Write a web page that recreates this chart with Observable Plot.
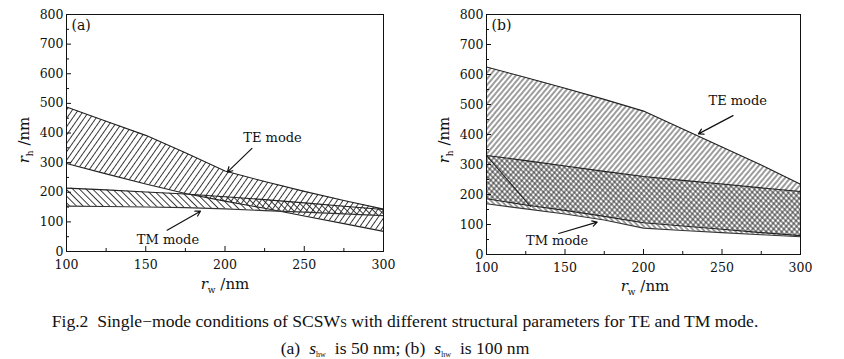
<!DOCTYPE html>
<html>
<head>
<meta charset="utf-8">
<script src="https://cdn.jsdelivr.net/npm/d3@7"></script>
<script src="https://cdn.jsdelivr.net/npm/@observablehq/plot@0.6"></script>
<style>
  html, body { margin: 0; padding: 0; background: white; }
  #wrap { position: relative; width: 844px; height: 359px; overflow: hidden; background: white; }
  .panel { position: absolute; top: 0; }
  .ttl { position: absolute; font-family: "DejaVu Serif", serif; font-size: 15px; white-space: nowrap; transform: translate(-50%, -50%); color: #111; }
  .ttl sub { font-size: 9px; vertical-align: -4px; }
  .rot { transform: translate(-50%, -50%) rotate(-90deg); }
  .cap { position: absolute; font-family: "Liberation Serif", serif; font-size: 17.6px; white-space: nowrap; color: #111; transform: translate(-50%, -50%); }
  .cap sub { font-size: 8px; vertical-align: -3px; }
  .sc { font-size: 12px; }
  .gap { display: inline-block; width: 9px; }
</style>
</head>
<body>
<div id="wrap">
  <div id="pa" class="panel" style="left:0"></div>
  <div id="pb" class="panel" style="left:420px"></div>
  <div class="ttl rot" style="left:25px; top:140px"><i>r</i><sub>h</sub> /nm</div>
  <div class="ttl rot" style="left:445px; top:140px"><i>r</i><sub>h</sub> /nm</div>
  <div class="ttl" style="left:225px; top:285px"><i>r</i><sub>w</sub> /nm</div>
  <div class="ttl" style="left:645px; top:287px"><i>r</i><sub>w</sub> /nm</div>
  <div class="cap" style="left:405px; top:321px">Fig.2&nbsp; Single−mode conditions of SCSW<span class="sc">S</span> with different structural parameters for TE and TM mode.</div>
  <div class="cap" style="left:405px; top:348px">(a)<span class="gap"></span><i>s</i><sub>hw</sub><span class="gap"></span>is 50 nm; (b)<span class="gap"></span><i>s</i><sub>hw</sub><span class="gap"></span>is 100 nm</div>
</div>
<script>
// ---- data ----
const rw = [100, 125, 150, 175, 200, 225, 250, 275, 300];
// panel (a): s_hw = 50 nm
const teUpperA = [488, 440, 392, 333, 272, 236, 203, 172, 143];
const teLowerA = [297, 262, 228, 196, 170, 146, 120, 94, 68];
const tmUpperA = [214, 208, 201, 194, 185, 175, 164, 153, 142];
const tmLowerA = [153, 152, 150, 148, 144, 138, 133, 127, 121];
// panel (b): s_hw = 100 nm
const teUpperB = [625, 590, 554, 517, 478, 418, 358, 298, 234];
const teLowerB = [186, 165, 147, 127, 106, 95, 84, 73, 63];
const tmUpperB = [330, 313, 295, 277, 260, 247, 235, 222, 210];
const tmLowerB = [169, 152, 135, 115, 88, 80, 73, 66, 59];
const cutRwB = [100, 128];
const cutRhB = [330, 160];
// ticks
const xMajor = [100, 150, 200, 250, 300];
const xMinor = [125, 175, 225, 275];
const yMajor = [0, 100, 200, 300, 400, 500, 600, 700, 800];
const yMinor = [50, 150, 250, 350, 450, 550, 650, 750];
// annotations
const panelLabels = ["(a)", "(b)"];
const labelsA = [{text: "TE mode", x: 230, y: 385}, {text: "TM mode", x: 164, y: 40}];
const arrowsA = [{x1: 217, y1: 348, x2: 201.5, y2: 268}, {x1: 163.5, y1: 72, x2: 184.5, y2: 136}];
const labelsB = [{text: "TE mode", x: 260, y: 513}, {text: "TM mode", x: 145, y: 47}];
const arrowsB = [{x1: 257, y1: 463, x2: 235, y2: 402}, {x1: 146, y1: 70, x2: 170.5, y2: 108}];

function table(up, lo) { return rw.map((x, i) => ({x, up: up[i], lo: lo[i]})); }

function addPatterns(svg, defsSpec) {
  const defs = d3.select(svg).insert("defs", ":first-child");
  for (const p of defsSpec) {
    const pat = defs.append("pattern")
      .attr("id", p.id).attr("patternUnits", "userSpaceOnUse")
      .attr("width", p.gap).attr("height", 10)
      .attr("patternTransform", `rotate(${p.rot})`);
    pat.append("line").attr("x1", p.gap / 2).attr("x2", p.gap / 2).attr("y1", -1).attr("y2", 11)
      .attr("stroke", "#222").attr("stroke-width", 0.9);
  }
}

function makePanel(opts) {
  const {width, height, mr, te, tm, pref, label, labels, arrows, extra} = opts;
  const ml = 66, mt = 14, mb = 24;
  const W = width - ml - mr, H = height - mt - mb;
  const teData = table(te[0], te[1]);
  const tmData = table(tm[0], tm[1]);
  const svg = Plot.plot({
    width, height,
    marginLeft: ml, marginRight: mr, marginTop: mt, marginBottom: mb,
    style: {background: "white", fontFamily: "DejaVu Serif, serif", fontSize: "12.5px", color: "#111", overflow: "visible"},
    x: {domain: [100, 300]},
    y: {domain: [0, 800]},
    marks: [
      Plot.areaY(teData, {x: "x", y1: "lo", y2: "up", fill: `url(#te${pref})`}),
      Plot.areaY(tmData, {x: "x", y1: "lo", y2: "up", fill: `url(#tm${pref})`}),
      Plot.lineY(teData, {x: "x", y: "up", stroke: "#222", strokeWidth: 1.1}),
      Plot.lineY(teData, {x: "x", y: "lo", stroke: "#222", strokeWidth: 1.1}),
      Plot.lineY(tmData, {x: "x", y: "up", stroke: "#222", strokeWidth: 1.1}),
      Plot.lineY(tmData, {x: "x", y: "lo", stroke: "#333", strokeWidth: 1.1}),
      ...(extra || []),
      Plot.tickX(xMajor, {x: d => d, insetTop: H - 5, stroke: "#111"}),
      Plot.tickX(xMinor, {x: d => d, insetTop: H - 3, stroke: "#111"}),
      Plot.tickY(yMajor, {y: d => d, insetRight: W - 5, stroke: "#111"}),
      Plot.tickY(yMinor, {y: d => d, insetRight: W - 3, stroke: "#111"}),
      Plot.axisX({ticks: xMajor, tickSize: 0, tickPadding: 9, label: null, fontSize: 12.5}),
      Plot.axisY({ticks: yMajor, tickSize: 0, tickPadding: 3, label: null, fontSize: 12.5}),
      Plot.frame({stroke: "#111", strokeWidth: 1}),
      Plot.text([label], {x: 100, y: 800, dx: 5, dy: 11, text: d => d, textAnchor: "start", fontSize: 14, fill: "#111"}),
      Plot.text(labels, {x: "x", y: "y", text: "text", fontSize: 13, fill: "#111"}),
      Plot.arrow(arrows, {x1: "x1", y1: "y1", x2: "x2", y2: "y2", stroke: "#111", strokeWidth: 1.2, headLength: 7})
    ]
  });
  addPatterns(svg, opts.patterns);
  return svg;
}

document.getElementById("pa").appendChild(makePanel({
  width: 420, height: 275, mr: 37, pref: "A", label: panelLabels[0],
  te: [teUpperA, teLowerA], tm: [tmUpperA, tmLowerA],
  labels: labelsA, arrows: arrowsA,
  patterns: [{id: "teA", gap: 4.8, rot: 35}, {id: "tmA", gap: 4.7, rot: -45}]
}));

const cutData = cutRwB.map((x, i) => ({x, y: cutRhB[i]}));
document.getElementById("pb").appendChild(makePanel({
  width: 424, height: 278, mr: 44, pref: "B", label: panelLabels[1],
  te: [teUpperB, teLowerB], tm: [tmUpperB, tmLowerB],
  labels: labelsB, arrows: arrowsB,
  extra: [Plot.line(cutData, {x: "x", y: "y", stroke: "#222", strokeWidth: 1.1})],
  patterns: [{id: "teB", gap: 4.0, rot: 40}, {id: "tmB", gap: 3.6, rot: -45}]
}));
</script>
</body>
</html>
